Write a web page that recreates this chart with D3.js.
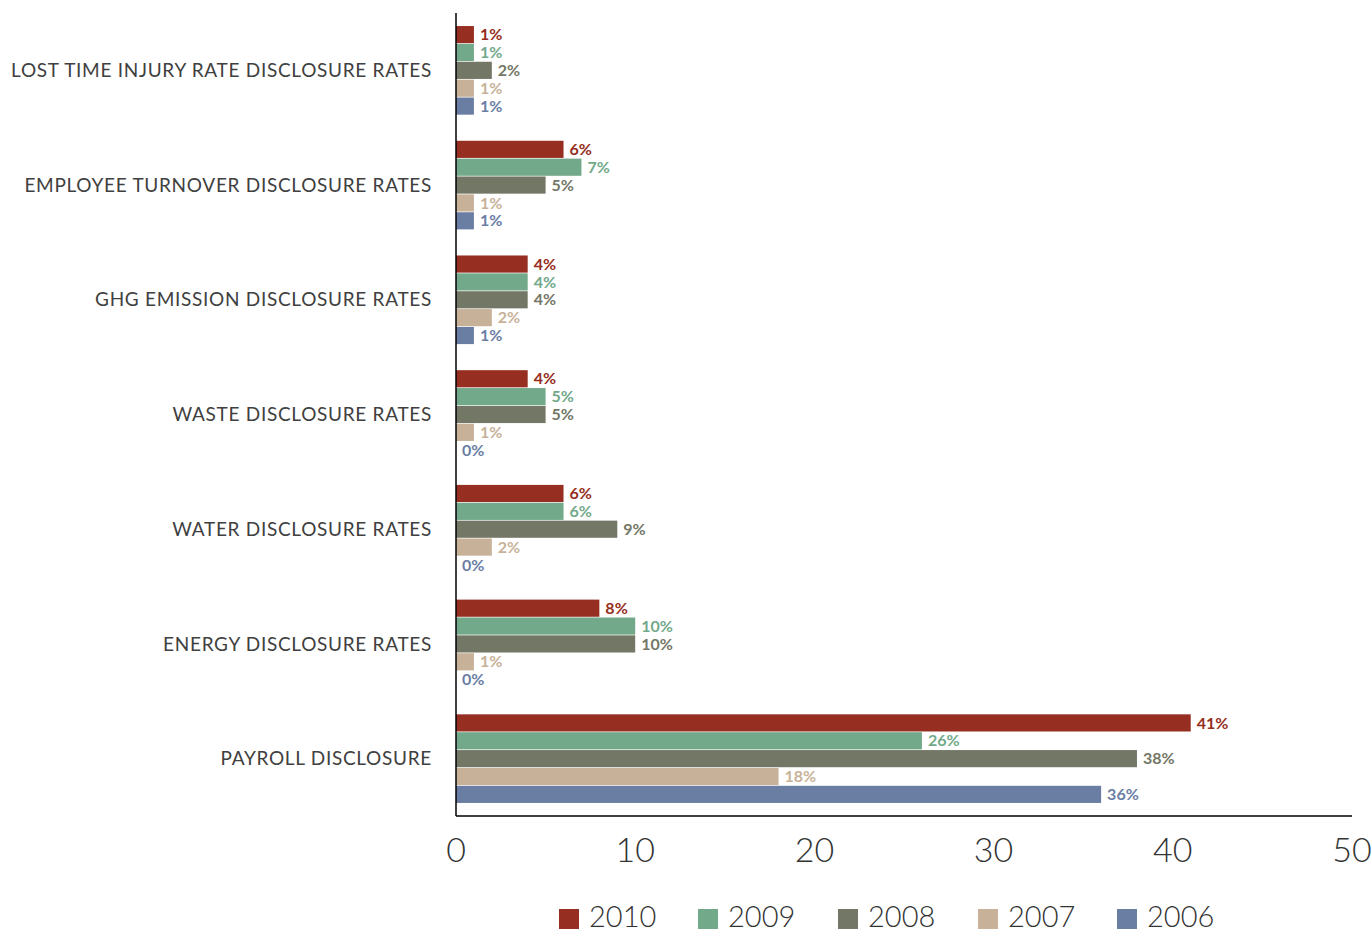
<!DOCTYPE html>
<html>
<head>
<meta charset="utf-8">
<script src="https://cdn.jsdelivr.net/npm/d3@7"></script>
<style>
  body { margin: 0; background: #fff; }
  svg { font-family: "Lato", "DejaVu Sans", sans-serif; }
</style>
</head>
<body>
<div id="chart"></div>
<script>
'use strict';

// categories, top to bottom
var categories = [
    "LOST TIME INJURY RATE DISCLOSURE RATES",
    "EMPLOYEE TURNOVER DISCLOSURE RATES",
    "GHG EMISSION DISCLOSURE RATES",
    "WASTE DISCLOSURE RATES",
    "WATER DISCLOSURE RATES",
    "ENERGY DISCLOSURE RATES",
    "PAYROLL DISCLOSURE"
];
var years = ["2010", "2009", "2008", "2007", "2006"];
var colors = ["#962e21", "#72a98a", "#737766", "#c7b299", "#6a7ea4"];

// one array per year, same order as categories
var values2010 = [1, 6, 4, 4, 6, 8, 41];
var values2009 = [1, 7, 4, 5, 6, 10, 26];
var values2008 = [2, 5, 4, 5, 9, 10, 38];
var values2007 = [1, 1, 2, 1, 2, 1, 18];
var values2006 = [1, 1, 1, 0, 0, 0, 36];
var xTicks = [0, 10, 20, 30, 40, 50];

var series = [values2010, values2009, values2008, values2007, values2006];

var width = 1372, height = 933;
var plotLeft = 456, plotRight = 1352, plotTop = 13, plotBottom = 816;

var svg = d3.select("#chart").append("svg")
    .attr("width", width)
    .attr("height", height);

var x = d3.scaleLinear().domain([0, 50]).range([plotLeft, plotRight]);
var y = d3.scaleBand().domain(categories).range([plotTop, plotBottom])
    .paddingInner(0.215).paddingOuter(0.1075);
var yInner = d3.scaleBand().domain(years).range([0, y.bandwidth()]).padding(0.04);

var groups = svg.selectAll(".cat")
    .data(categories)
  .enter().append("g")
    .attr("class", "cat")
    .attr("transform", function(d) { return "translate(0," + y(d) + ")"; });

groups.each(function(cat, ci) {
    var g = d3.select(this);
    for (var i = 0; i < years.length; i++) {
        var v = series[i][ci];
        var yy = yInner(years[i]);
        g.append("rect")
            .attr("x", x(0))
            .attr("y", yy)
            .attr("width", x(v) - x(0))
            .attr("height", yInner.bandwidth())
            .style("fill", colors[i]);
        g.append("text")
            .attr("x", x(v) + 6)
            .attr("y", yy + yInner.bandwidth() / 2)
            .attr("dy", "0.35em")
            .style("font-size", "16px")
            .style("font-weight", "bold")
            .style("fill", colors[i])
            .text(v + "%");
    }
});

// category labels
svg.selectAll(".catlabel")
    .data(categories)
  .enter().append("text")
    .attr("class", "catlabel")
    .attr("x", 432)
    .attr("y", function(d) { return y(d) + y.bandwidth() / 2; })
    .attr("dy", "0.35em")
    .attr("text-anchor", "end")
    .style("font-size", "19px")
    .style("letter-spacing", "0.7px")
    .style("fill", "#404040")
    .text(function(d) { return d; });

// axes lines
svg.append("line")
    .attr("x1", x(0)).attr("x2", x(0))
    .attr("y1", plotTop).attr("y2", plotBottom)
    .style("stroke", "#000").style("stroke-width", 1.5);
svg.append("line")
    .attr("x1", x(0)).attr("x2", x(50))
    .attr("y1", plotBottom).attr("y2", plotBottom)
    .style("stroke", "#000").style("stroke-width", 1.5);

// x tick labels
svg.selectAll(".xtick")
    .data(xTicks)
  .enter().append("text")
    .attr("class", "xtick")
    .attr("x", function(d) { return x(d); })
    .attr("y", 862)
    .attr("text-anchor", "middle")
    .style("font-size", "34px")
    .style("font-weight", "300")
    .style("fill", "#333")
    .text(function(d) { return d; });

// legend
var legendX = [559, 698, 838, 978, 1117];
var legend = svg.selectAll(".legend")
    .data(years)
  .enter().append("g")
    .attr("class", "legend")
    .attr("transform", function(d, i) { return "translate(" + legendX[i] + ",909)"; });
legend.append("rect")
    .attr("width", 20).attr("height", 20)
    .style("fill", function(d, i) { return colors[i]; });
legend.append("text")
    .attr("x", 30)
    .attr("y", 18)
    .style("font-size", "29px")
    .style("font-weight", "300")
    .style("fill", "#333")
    .text(function(d) { return d; });
</script>
</body>
</html>
